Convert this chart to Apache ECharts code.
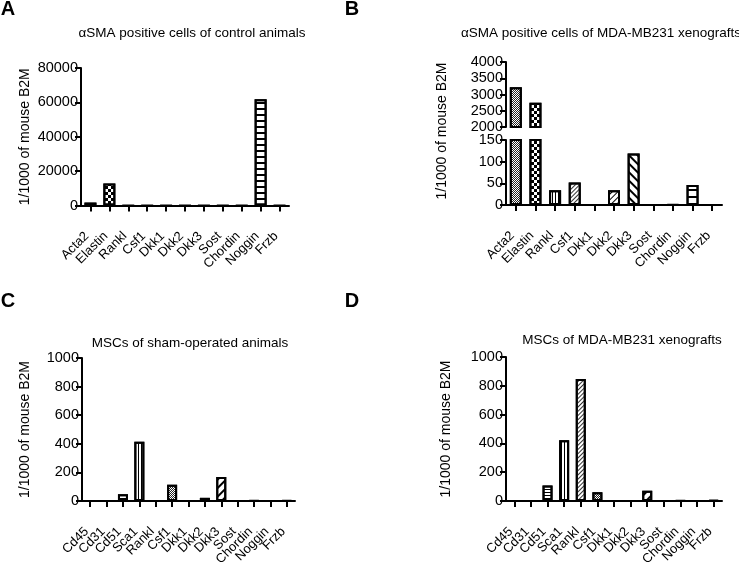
<!DOCTYPE html>
<html>
<head>
<meta charset="utf-8">
<script src="https://cdn.jsdelivr.net/npm/echarts@6/dist/echarts.min.js"></script>
<style>html,body{margin:0;padding:0;background:#fff}#c{width:739px;height:562px}</style>
</head>
<body>
<div id="c"></div>
<script>
// ---- data ----
const catsAB = ['Acta2','Elastin','Rankl','Csf1','Dkk1','Dkk2','Dkk3','Sost','Chordin','Noggin','Frzb'];
const catsCD = ['Cd45','Cd31','Cd51','Sca1','Rankl','Csf1','Dkk1','Dkk2','Dkk3','Sost','Chordin','Noggin','Frzb'];
const valuesA = [1700, 12800, 0, 0, 0, 0, 0, 0, 0, 61800, 0];
const valuesB = [3220, 2745, 34, 52, 0, 34, 119, 0, 1.5, 46, 0];
const valuesC = [0, 0, 48, 415, 0, 114, 0, 22, 167, 0, 2, 0, 4];
const valuesD = [0, 0, 108, 422, 848, 60, 0, 0, 72, 0, 2, 0, 6];
const ticksA = [0, 20000, 40000, 60000, 80000];
const ticksBupper = [2000, 2500, 3000, 3500, 4000];
const ticksBlower = [0, 50, 100, 150];
const ticksCD = [0, 200, 400, 600, 800, 1000];
const titles = ['\u03b1SMA positive cells of control animals', '\u03b1SMA positive cells of MDA-MB231 xenografts',
                'MSCs of sham-operated animals', 'MSCs of MDA-MB231 xenografts'];
const letters = ['A', 'B', 'C', 'D'];
const yName = '1/1000 of mouse B2M';

// ---- styles ----
const FONT = 'Liberation Sans, Arial, sans-serif';
const decals = {
  dense:   {symbol:'rect', symbolSize:1, dashArrayX:[[1,1],[0,1,1,0]], dashArrayY:[1,0], color:'#222'},
  checker: {symbol:'rect', symbolSize:1, dashArrayX:[[3,3],[0,3,3,0]], dashArrayY:[3,0], color:'#000'},
  hA:      {symbol:'rect', symbolSize:1, dashArrayX:[1,0], dashArrayY:[2,4], color:'#000'},
  hWide:   {symbol:'rect', symbolSize:1, dashArrayX:[1,0], dashArrayY:[2,5], color:'#000'},
  hFine:   {symbol:'rect', symbolSize:1, dashArrayX:[1,0], dashArrayY:[1,2], color:'#000'},
  vFine:   {symbol:'rect', symbolSize:1, dashArrayX:[1,2], dashArrayY:[1,0], color:'#000'},
  dFine:   {symbol:'rect', symbolSize:1, dashArrayX:[1,0], dashArrayY:[1,2], rotation: -Math.PI/4, color:'#333'},
  dMed:    {symbol:'rect', symbolSize:1, dashArrayX:[1,0], dashArrayY:[1,3], rotation: -Math.PI/4, color:'#000'},
  dBack:   {symbol:'rect', symbolSize:1, dashArrayX:[1,0], dashArrayY:[2,4], rotation: Math.PI/4, color:'#000'},
  dThick:  {symbol:'rect', symbolSize:1, dashArrayX:[1,0], dashArrayY:[2,4], rotation: -Math.PI/4, color:'#000'}
};
const patA = {Acta2:'dense', Elastin:'checker', Noggin:'hA'};
const patB = {Acta2:'dense', Elastin:'checker', Rankl:'vFine', Csf1:'dFine', Dkk2:'dMed', Dkk3:'dBack', Noggin:'hWide'};
const patC = {Cd51:'hFine', Sca1:'vFine', Csf1:'dense', Dkk2:'dense', Dkk3:'dThick'};
const patD = {Cd51:'hFine', Sca1:'vFine', Rankl:'dFine', Csf1:'dense', Dkk3:'dThick'};

function items(cats, vals, pat) {
  return vals.map((v, i) => {
    const p = pat[cats[i]];
    const st = {color:'#fff', borderColor:'#000', borderWidth:2};
    if (p) st.decal = decals[p];
    return {value: v, itemStyle: st};
  });
}

const grids = [
  {left:81, top:68, width:208, height:137.5},   // A
  {left:506, top:62, width:216, height:65},     // B upper
  {left:506, top:140, width:216, height:65},    // B lower
  {left:82, top:358, width:213, height:143},    // C
  {left:506, top:357, width:216, height:144}    // D
].map(g => Object.assign(g, {containLabel:false, outerBoundsMode:'none'}));

const axisLine = {show:true, lineStyle:{color:'#000', width:2}};
const axisTickY = {show:true, length:6, lineStyle:{color:'#000', width:2}};
const yLabel = {color:'#000', fontFamily:FONT, fontSize:14.5, margin:3, formatter: v => String(v)};
const xLabel = {color:'#000', fontFamily:FONT, fontSize:13, rotate:45, margin:25, padding:[0,5,0,0], interval:0};

function xAx(gi, cats, show) {
  return {type:'category', gridIndex:gi, data:cats, show: show,
    axisLine: axisLine,
    axisTick:{show:true, alignWithLabel:true, length:6, lineStyle:{color:'#000', width:2}, interval:0},
    axisLabel: xLabel, splitLine:{show:false}};
}
function yAx(gi, ticks, nameGap) {
  const o = {type:'value', gridIndex:gi, min:ticks[0], max:ticks[ticks.length-1],
    interval: ticks[1]-ticks[0],
    axisLine: axisLine, axisTick: axisTickY, axisLabel: yLabel, splitLine:{show:false}};
  if (nameGap) {
    o.name = yName; o.nameLocation = 'middle'; o.nameGap = nameGap;
    o.nameTextStyle = {color:'#000', fontFamily:FONT, fontSize:14};
  }
  return o;
}

const option = {
  animation:false,
  backgroundColor:'#fff',
  title: [
    {text:titles[0], left:187, top:21, textAlign:'center'},
    {text:titles[1], left:596, top:21, textAlign:'center'},
    {text:titles[2], left:185, top:331, textAlign:'center'},
    {text:titles[3], left:617, top:328, textAlign:'center'}
  ].map(t => Object.assign(t, {textStyle:{color:'#000', fontFamily:FONT, fontSize:13.5, fontWeight:'normal'}})),
  graphic: [
    {type:'text', x:8, y:9.5, style:{text:letters[0], font:'bold 20px '+FONT, fill:'#000', align:'center', verticalAlign:'middle'}},
    {type:'text', x:352, y:9.5, style:{text:letters[1], font:'bold 20px '+FONT, fill:'#000', align:'center', verticalAlign:'middle'}},
    {type:'text', x:8, y:301, style:{text:letters[2], font:'bold 20px '+FONT, fill:'#000', align:'center', verticalAlign:'middle'}},
    {type:'text', x:352, y:301, style:{text:letters[3], font:'bold 20px '+FONT, fill:'#000', align:'center', verticalAlign:'middle'}},
    {type:'text', x:442, y:131, rotation:Math.PI/2, style:{text:yName, font:'14px '+FONT, fill:'#000', align:'center', verticalAlign:'middle'}}
  ],
  grid: grids,
  xAxis: [
    xAx(0, catsAB, true),
    xAx(1, catsAB, false),
    xAx(2, catsAB, true),
    xAx(3, catsCD, true),
    xAx(4, catsCD, true)
  ],
  yAxis: [
    yAx(0, ticksA, 49),
    yAx(1, ticksBupper),
    yAx(2, ticksBlower),
    yAx(3, ticksCD, 50),
    yAx(4, ticksCD, 53)
  ],
  series: [
    {type:'bar', xAxisIndex:0, yAxisIndex:0, barWidth:12, data: items(catsAB, valuesA, patA)},
    {type:'bar', xAxisIndex:1, yAxisIndex:1, barWidth:12, clip:true, data: items(catsAB, valuesB, patB)},
    {type:'bar', xAxisIndex:2, yAxisIndex:2, barWidth:12, clip:true, data: items(catsAB, valuesB, patB)},
    {type:'bar', xAxisIndex:3, yAxisIndex:3, barWidth:10, data: items(catsCD, valuesC, patC)},
    {type:'bar', xAxisIndex:4, yAxisIndex:4, barWidth:10, data: items(catsCD, valuesD, patD)}
  ]
};
const chart = echarts.init(document.getElementById('c'), null, {renderer:'canvas'});
chart.setOption(option);
</script>
</body>
</html>
